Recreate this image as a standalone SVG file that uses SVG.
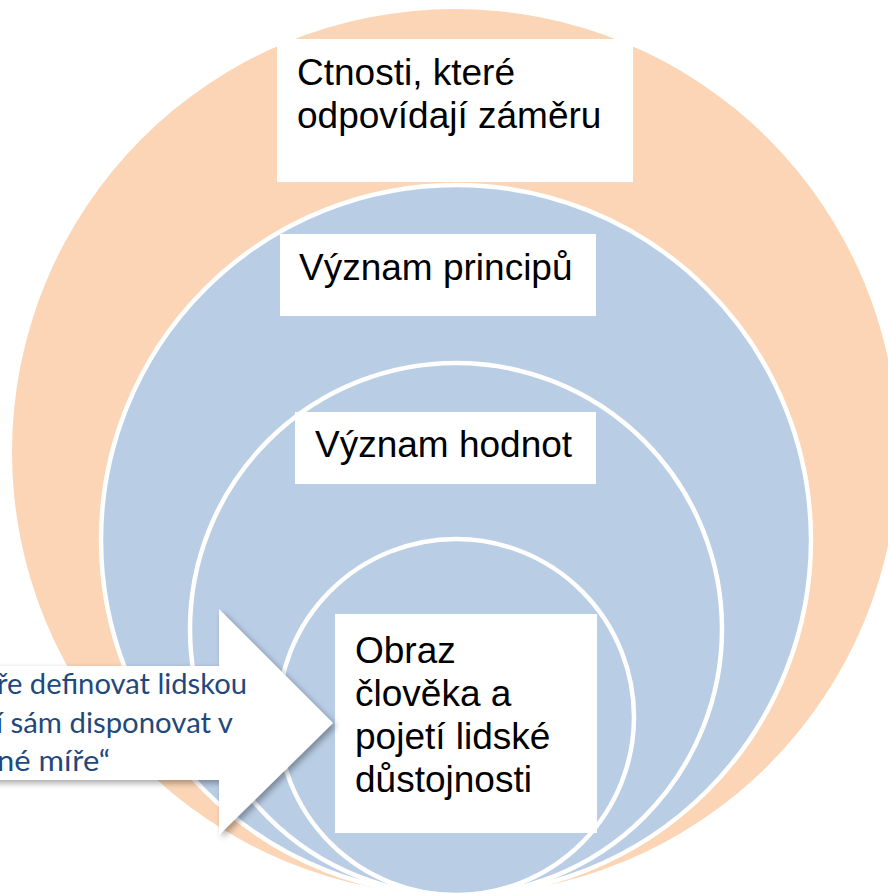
<svg xmlns="http://www.w3.org/2000/svg" width="888" height="896" viewBox="0 0 888 896">
  <style>
    .ring-outer { fill: #FBD5B5; }
    .ring { fill: #B9CDE5; stroke: #FFFFFF; stroke-width: 4.5; }
    .box { fill: #FFFFFF; }
    .lbl { font-family: "Liberation Sans", Arial, sans-serif; font-size: 37px; fill: #000000; }
    .arrow-txt { font-family: Lato, "Open Sans", sans-serif; font-size: 29.5px; fill: #1F497D; }
  </style>
  <defs>
    <filter id="shadow" x="-20%" y="-20%" width="140%" height="140%">
      <feDropShadow dx="3" dy="3" stdDeviation="3" flood-color="#000000" flood-opacity="0.35"/>
    </filter>
  </defs>

  <g id="ring-virtues">
    <circle class="ring-outer" cx="455" cy="452" r="443"/>
  </g>
  <g id="ring-principles">
    <circle class="ring" cx="456" cy="540" r="355"/>
  </g>
  <g id="ring-values">
    <circle class="ring" cx="456" cy="629" r="266"/>
  </g>
  <g id="ring-dignity">
    <circle class="ring" cx="456" cy="717" r="178"/>
  </g>

  <g id="node-virtues">
    <rect class="box" x="277" y="39" width="356" height="143"/>
    <text class="lbl" x="297" y="85">Ctnosti, které</text>
    <text class="lbl" x="297" y="128">odpovídají záměru</text>
  </g>
  <g id="node-principles">
    <rect class="box" x="280" y="234" width="316" height="82"/>
    <text class="lbl" x="299" y="280">Význam principů</text>
  </g>
  <g id="node-values">
    <rect class="box" x="295" y="412" width="301" height="72"/>
    <text class="lbl" x="315" y="457">Význam hodnot</text>
  </g>
  <g id="node-dignity">
    <rect class="box" x="335" y="614" width="262" height="219"/>
    <text class="lbl" x="355" y="663">Obraz</text>
    <text class="lbl" x="355" y="706">člověka a</text>
    <text class="lbl" x="355" y="749">pojetí lidské</text>
    <text class="lbl" x="355" y="792">důstojnosti</text>
  </g>

  <g id="connectors">
    <g id="arrow-note">
      <path d="M -20 666 H 219 V 609 L 333 723 L 219 835 V 780 H -20 Z" fill="#FFFFFF" filter="url(#shadow)"/>
      <text class="arrow-txt" x="-3" y="694" textLength="250" lengthAdjust="spacingAndGlyphs">ře definovat lidskou</text>
      <text class="arrow-txt" x="-4" y="733" textLength="237" lengthAdjust="spacingAndGlyphs">í sám disponovat v</text>
      <text class="arrow-txt" x="-3" y="771" textLength="113" lengthAdjust="spacingAndGlyphs">né míře“</text>
    </g>
  </g>
</svg>
